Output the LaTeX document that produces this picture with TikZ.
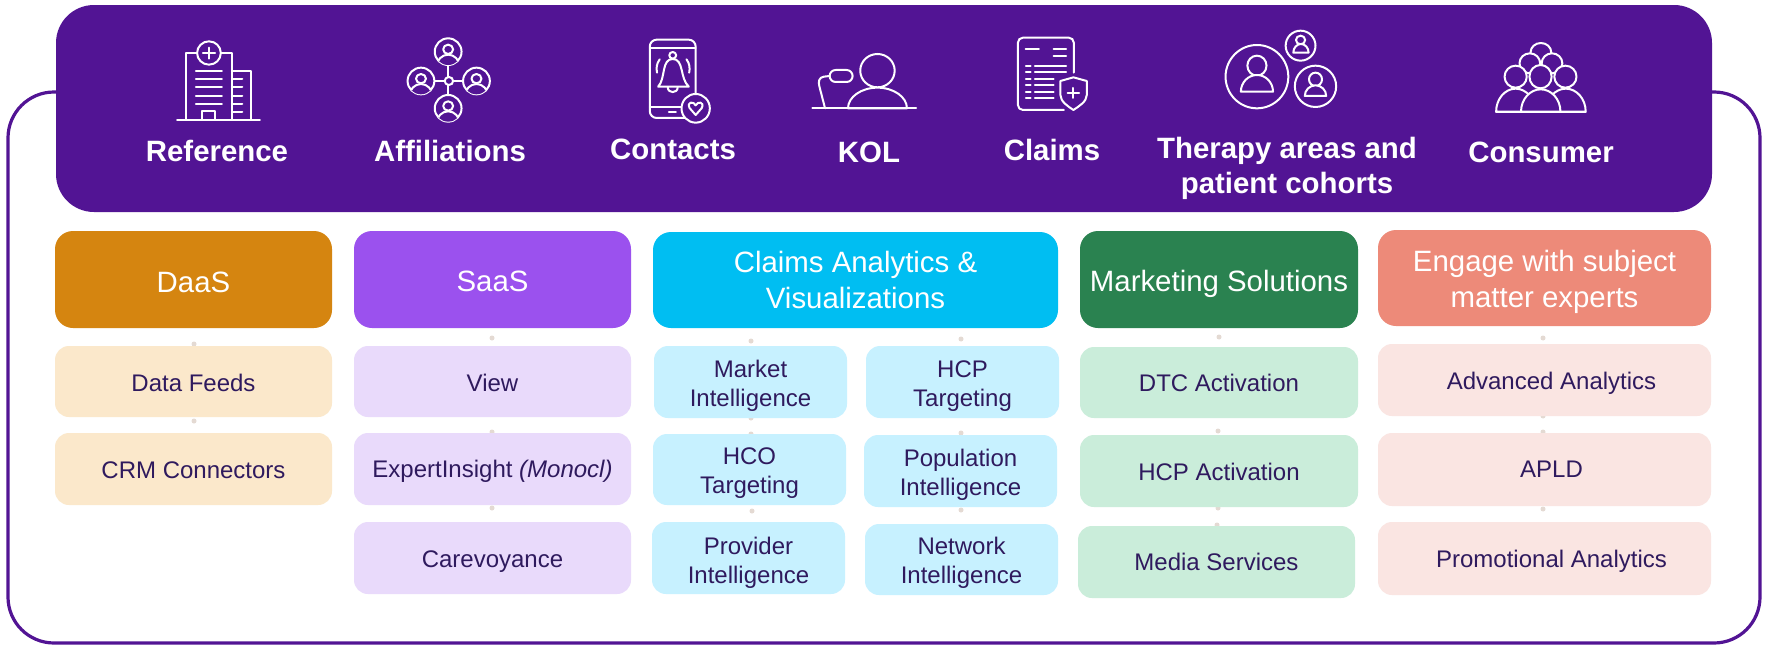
\documentclass[tikz,border=0pt]{standalone}
\usepackage{fontspec}
\setmainfont{Liberation Sans}
\definecolor{hdrpurple}{HTML}{521494}
\definecolor{ink}{HTML}{2F1A5E}
\definecolor{dotc}{HTML}{E4DAD3}
\definecolor{cDaas}{HTML}{D58510}\definecolor{lDaas}{HTML}{FBE8CB}
\definecolor{cSaas}{HTML}{9B51EE}\definecolor{lSaas}{HTML}{E9DAFB}
\definecolor{cClaims}{HTML}{00BEF2}\definecolor{lClaims}{HTML}{C7F1FF}
\definecolor{cMkt}{HTML}{2A8250}\definecolor{lMkt}{HTML}{CAEDDA}
\definecolor{cEng}{HTML}{ED8A79}\definecolor{lEng}{HTML}{FAE5E2}
\newcommand\lift[1]{\rule{0pt}{#1pt}}
\newcommand\domep[4]{% x1 x2 ybase ypeak
  \pgfmathsetmacro\dcx{(#1+#2)/2}\pgfmathsetmacro\drx{(#2-#1)/2}
  \pgfmathsetmacro\dh{#3-#4}
  \draw[icon,fill=hdrpurple] (#1,#3) .. controls (#1,{#3-.55*\dh}) and ({\dcx-.55*\drx},#4) .. (\dcx,#4)
     .. controls ({\dcx+.55*\drx},#4) and (#2,{#3-.55*\dh}) .. (#2,#3) -- cycle;}
\newcommand\ring[4]{\draw[icon,fill=hdrpurple] (#1,#2) ellipse [x radius=#3,y radius=#4];}
\newcommand\pcirc[2]{%
  \ring{#1}{#2}{35}{40}
  \begin{scope}
   \clip (#1,#2) ellipse [x radius=35,y radius=40];
   \pgfmathsetmacro\pa{#1-30}\pgfmathsetmacro\pb{#1+30}\pgfmathsetmacro\pc{#2+45}\pgfmathsetmacro\pd{#2+9}
   \domep{\pa}{\pb}{\pc}{\pd}
  \end{scope}
  \pgfmathsetmacro\pe{#2-7}
  \ring{#1}{\pe}{13}{14}}
\begin{document}
\begin{tikzpicture}[x=1pt,y=-1pt,
  hdr/.style={rounded corners=18pt,inner sep=0pt,text=white,align=center,font=\fontsize{29.4}{36}\selectfont},
  sub/.style={rounded corners=14pt,inner sep=0pt,text=ink,align=center,font=\fontsize{24}{29}\selectfont},
  toptxt/.style={text=white,align=center,inner sep=0pt,font=\fontsize{29.4}{35}\selectfont\bfseries},
  dotn/.style={circle,fill=dotc,inner sep=0pt,minimum size=5pt},
  icon/.style={draw=white,line width=2pt,line cap=round,line join=round},
  zoomed/.style={x=.3827pt,y=-.3333pt}]
\useasboundingbox (0,0) rectangle (1767,645);
\fill[white] (0,0) rectangle (1767,645);
% frame and header
\draw[hdrpurple,line width=3.2pt,rounded corners=46pt] (8,92) rectangle (1760,643);
\node[fill=hdrpurple,rounded corners=38pt,minimum width=1656pt,minimum height=207pt,inner sep=0pt] (head) at (884,108.5) {};
% dots
\foreach \n/\a/\b in {d1/194/344,d2/194/421,d3/492/338,d4/492/432,d5/492/508,
  d6/751/341,d7/751/418,d8/751/434,d9/752/511,d10/961/339,d11/961/433,d12/961/510,
  d13/1219/337,d14/1218/431,d15/1218/508,d16/1217/525,d17/1543/338,d18/1543/416,d19/1543/432,d20/1543/509}
  \node[dotn] (\n) at (\a,\b) {};
% column headers
\node[hdr,fill=cDaas,minimum width=277pt,minimum height=97pt] (daas) at (193.5,279.5) {\lift{25.5}DaaS};
\node[hdr,fill=cSaas,minimum width=277pt,minimum height=97pt] (saas) at (492.5,279.5) {\lift{23.5}SaaS};
\node[hdr,fill=cClaims,minimum width=405pt,minimum height=96pt] (claims) at (855.5,280) {Claims Analytics \&\\Visualizations};
\node[hdr,fill=cMkt,minimum width=278pt,minimum height=97pt] (mkt) at (1219,279.5) {\lift{30.5}Marketing Solutions};
\node[hdr,fill=cEng,minimum width=333pt,minimum height=96pt] (eng) at (1544.5,278) {\lift{28.3}Engage with subject\\matter experts};
% sub boxes
\node[sub,fill=lDaas,minimum width=277pt,minimum height=71pt] (s1) at (193.5,381.5) {\lift{19.5}Data Feeds};
\node[sub,fill=lDaas,minimum width=277pt,minimum height=72pt] (s2) at (193.5,469) {\lift{19.5}CRM Connectors};
\node[sub,fill=lSaas,minimum width=277pt,minimum height=71pt] (s3) at (492.5,381.5) {\lift{19.5}View};
\node[sub,fill=lSaas,minimum width=277pt,minimum height=72pt] (s4) at (492.5,469) {\lift{21.5}ExpertInsight \textit{(Monocl)}};
\node[sub,fill=lSaas,minimum width=277pt,minimum height=72pt] (s5) at (492.5,558) {\lift{23.5}Carevoyance};
\node[sub,fill=lClaims,minimum width=193pt,minimum height=72pt] (s6) at (750.5,382) {\lift{24.5}Market\\Intelligence};
\node[sub,fill=lClaims,minimum width=193pt,minimum height=72pt] (s7) at (962.5,382) {\lift{24.5}HCP\\Targeting};
\node[sub,fill=lClaims,minimum width=193pt,minimum height=71pt] (s8) at (749.5,469.5) {\lift{24.5}HCO\\Targeting};
\node[sub,fill=lClaims,minimum width=193pt,minimum height=72pt] (s9) at (960.5,471) {\lift{24.5}Population\\Intelligence};
\node[sub,fill=lClaims,minimum width=193pt,minimum height=72pt] (s10) at (748.5,558) {\lift{26.5}Provider\\Intelligence};
\node[sub,fill=lClaims,minimum width=193pt,minimum height=71pt] (s11) at (961.5,559.5) {\lift{24.5}Network\\Intelligence};
\node[sub,fill=lMkt,minimum width=278pt,minimum height=71pt] (s12) at (1219,382.5) {DTC Activation};
\node[sub,fill=lMkt,minimum width=278pt,minimum height=72pt] (s13) at (1219,471) {\lift{19.5}HCP Activation};
\node[sub,fill=lMkt,minimum width=277pt,minimum height=72pt] (s14) at (1216.5,562) {Media Services};
\node[sub,fill=lEng,minimum width=333pt,minimum height=72pt] (s15) at (1544.5,380) {\lift{23.5}\hspace*{14pt}Advanced Analytics};
\node[sub,fill=lEng,minimum width=333pt,minimum height=73pt] (s16) at (1544.5,469.5) {\hspace*{14pt}APLD};
\node[sub,fill=lEng,minimum width=333pt,minimum height=73pt] (s17) at (1544.5,558.5) {\lift{23.5}\hspace*{14pt}Promotional Analytics};
% header labels
\node[toptxt] (t1) at (217,151) {Reference};
\node[toptxt] (t2) at (450,151) {Affiliations};
\node[toptxt] (t3) at (673,149) {Contacts};
\node[toptxt] (t4) at (869,152) {KOL};
\node[toptxt] (t5) at (1052,150) {Claims};
\node[toptxt] (t6) at (1287,168.5) {Therapy areas and\\patient cohorts};
\node[toptxt] (t7) at (1541,152) {Consumer};
% icons: reference and affiliations
\begin{scope}[zoomed]
 \draw[icon] (485,358) -- (485,158) -- (606,158) -- (606,358);
 \ring{546}{159}{31}{35}
 \draw[icon] (546,143) -- (546,176) (530,159) -- (562,159);
 \foreach \v in {213,238,262,287,312} \draw[icon] (512,\v) -- (580,\v);
 \draw[icon] (528,358) -- (528,332) -- (563,332) -- (563,358);
 \draw[icon] (606,212) -- (657,212) -- (657,358);
 \foreach \v in {238,262,287,312,336} \draw[icon] (606,\v) -- (633,\v);
 \draw[icon] (463,359) -- (679,359);
 \draw[icon] (1171,155) -- (1171,325) (1100,243) -- (1245,243);
 \pcirc{1171}{155}\pcirc{1100}{243}\pcirc{1245}{243}\pcirc{1171}{325}
 \ring{1173}{243}{11}{12}
\end{scope}
% icons: contacts, KOL, claims
\begin{scope}[shift={(600,0)},zoomed]
 \draw[icon,rounded corners=7pt] (130,119) rectangle (250,354);
 \draw[icon] (130,145) -- (250,145) (130,320) -- (218,320) (180,335) -- (198,335);
 \ring{190}{166}{9}{10}
 \draw[icon] (152,260) .. controls (172,235) and (160,177) .. (190,177) .. controls (220,177) and (208,235) .. (232,260) -- cycle;
 \draw[icon] (177,262) .. controls (177,281) and (203,281) .. (203,262);
 \draw[icon] (156,178) .. controls (147,192) and (147,205) .. (149,218);
 \draw[icon] (226,178) .. controls (235,192) and (235,205) .. (233,218);
 \ring{250}{325}{37}{43}
 \draw[icon] (250,345) -- (234,324) .. controls (226,305) and (245,303) .. (250,316) .. controls (255,303) and (274,305) .. (266,324) -- cycle;
 \ring{725}{212}{45}{50}
 \domep{648}{802}{325}{263}
 \draw[icon] (555,325) -- (826,325);
 \draw[icon,rounded corners=6pt] (600,210) rectangle (660,246);
 \draw[icon] (600,228) -- (585,230) .. controls (572,232) and (570,245) .. (573,258) -- (588,325);
 \draw[icon,rounded corners=5pt] (1238,218) -- (1238,113) -- (1092,113) -- (1092,330) -- (1212,330);
 \draw[icon] (1112,147) -- (1147,147) (1185,147) -- (1218,147) (1185,167) -- (1218,167);
 \foreach \v/\e in {197/1218,216/1218,236/1185,256/1185,275/1185,295/1185}
   \draw[icon] (1113,\v) -- (1125,\v) (1136,\v) -- (\e,\v);
 \draw[icon] (1237,232) -- (1272,243) -- (1272,285) .. controls (1272,305) and (1250,320) .. (1237,330) .. controls (1224,320) and (1203,305) .. (1203,285) -- (1203,243) -- cycle;
 \draw[icon] (1237,264) -- (1237,294) (1222,279) -- (1252,279);
\end{scope}
% icons: therapy areas, consumer
\begin{scope}[shift={(1167,0)},zoomed]
 \ring{235}{230}{82}{95}
 \ring{235}{197}{25}{30}
 \domep{193}{277}{275}{225}
 \ring{349}{137}{39}{45}
 \ring{349}{120}{12}{13}
 \domep{330}{370}{158}{132}
 \ring{388}{259}{54}{62}
 \ring{388}{238}{17}{20}
 \domep{360}{416}{288}{256}
 \ring{977}{157}{27}{28}
 \ring{948}{190}{27}{30}
 \ring{1006}{190}{27}{30}
 \domep{860}{962}{335}{266}
 \domep{990}{1094}{335}{266}
 \ring{911}{230}{29}{33}
 \ring{1041}{230}{29}{33}
 \ring{976}{230}{29}{35}
 \domep{925}{1028}{335}{268}
 \draw[icon] (860,335) -- (1094,335);
\end{scope}
\end{tikzpicture}
\end{document}
